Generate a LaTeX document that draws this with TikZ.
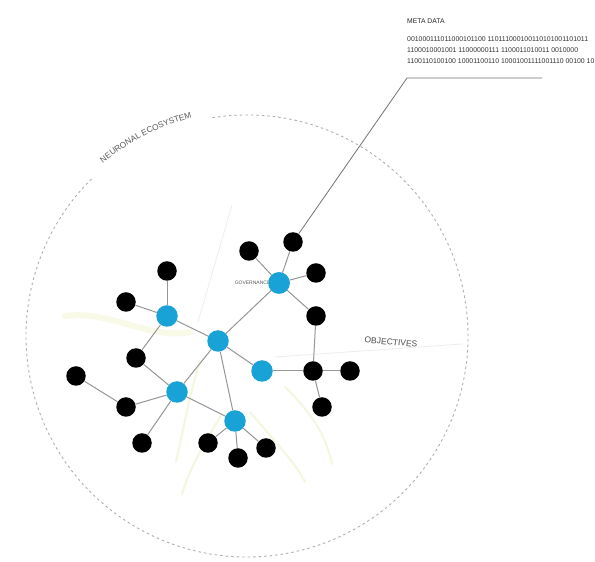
\documentclass[tikz,border=0pt]{standalone}
\usepackage{fontspec}
\setmainfont{Liberation Sans}
\usetikzlibrary{decorations.text}
\definecolor{nodeblue}{RGB}{24,162,214}
\definecolor{edgegray}{RGB}{150,150,150}
\definecolor{paleyellow}{RGB}{246,246,222}
\definecolor{ringgray}{RGB}{175,175,175}
\tikzset{
  hub/.style={circle, fill=nodeblue, minimum size=21.5pt, inner sep=0pt},
  leaf/.style={circle, fill=black, minimum size=19.5pt, inner sep=0pt},
  link/.style={draw=edgegray, line width=1pt},
  metaline/.style={draw=black!55, line width=0.8pt},
  ring/.style={draw=ringgray, line width=0.9pt, dash pattern=on 2.5pt off 3pt},
  faint/.style={draw=paleyellow, line width=2pt, line cap=round},
  faintgray/.style={draw=black!7, line width=0.8pt},
  tinylabel/.style={font=\fontsize{5}{5.5}\selectfont, text=black!65, inner sep=0.5pt, fill=white},
  smalllabel/.style={font=\fontsize{8.5}{9}\selectfont, text=black!70},
  metatext/.style={font=\fontsize{6.9}{11}\selectfont, text=black!80, align=left, inner sep=0pt, anchor=north west}
}
\begin{document}
\begin{tikzpicture}[x=1pt,y=1pt]
\useasboundingbox (0,0) rectangle (595,562);
\fill[white] (0,0) rectangle (595,562);

% faint background strokes
\draw[faint, line width=6pt, draw=paleyellow!70] (65,246) .. controls (110,252) and (150,222) .. (190,230);
\draw[faintgray] (232,357) -- (198,240);
\draw[faint] (222,148) .. controls (205,120) and (190,95) .. (182,68);
\draw[faint] (250,150) .. controls (275,120) and (295,100) .. (305,80);
\draw[faint] (285,175) .. controls (310,150) and (325,130) .. (332,98);
\draw[faint] (200,200) .. controls (190,170) and (185,140) .. (176,100);
\draw[faintgray] (275,205) -- (462,218);

% dashed ring with a gap for its title
\draw[ring] (247,226) ++(99:221) arc[start angle=99, end angle=-226, radius=221];
\path[decorate, decoration={text along path, text align=center,
  text={|\fontsize{8.3}{9}\selectfont\color{black!65}|NEURONAL ECOSYSTEM}}]
  (247,226) ++(135:225) arc[start angle=135, end angle=99, radius=225];

% hubs
\node[hub] (h1) at (279,279) {};
\node[hub] (h2) at (167,246) {};
\node[hub] (h3) at (218,221) {};
\node[hub] (h4) at (262,191) {};
\node[hub] (h5) at (177,170) {};
\node[hub] (h6) at (235,141) {};

% leaves
\node[leaf] (k1) at (249,311) {};
\node[leaf] (k2) at (293,320) {};
\node[leaf] (k3) at (316,289) {};
\node[leaf] (k4) at (167,291) {};
\node[leaf] (k5) at (126,260) {};
\node[leaf] (k6) at (316,246) {};
\node[leaf] (k7) at (136,204) {};
\node[leaf] (k8) at (313,191) {};
\node[leaf] (k9) at (350,191) {};
\node[leaf] (k10) at (76,186) {};
\node[leaf] (k11) at (126,155) {};
\node[leaf] (k12) at (322,155) {};
\node[leaf] (k13) at (142,119) {};
\node[leaf] (k14) at (208,119) {};
\node[leaf] (k15) at (238,104) {};
\node[leaf] (k16) at (266,114) {};

% connectors
\draw[link] (h1) -- (k1);
\draw[link] (h1) -- (k2);
\draw[link] (h1) -- (k3);
\draw[link] (h1) -- (k6);
\draw[link] (h1) -- (h3);
\draw[link] (h2) -- (k4);
\draw[link] (h2) -- (k5);
\draw[link] (h2) -- (k7);
\draw[link] (h2) -- (h3);
\draw[link] (h3) -- (h4);
\draw[link] (h3) -- (h5);
\draw[link] (h3) -- (h6);
\draw[link] (h4) -- (k8);
\draw[link] (k8) -- (k6);
\draw[link] (k8) -- (k9);
\draw[link] (k8) -- (k12);
\draw[link] (h5) -- (k7);
\draw[link] (h5) -- (k11);
\draw[link] (k11) -- (k10);
\draw[link] (h5) -- (k13);
\draw[link] (h5) -- (h6);
\draw[link] (h6) -- (k14);
\draw[link] (h6) -- (k15);
\draw[link] (h6) -- (k16);

% labels
\node[tinylabel, anchor=east] (gov) at ([xshift=3pt]h1.west) {GOVERNANCE};
\node[hub] at (h1) {};
\node[smalllabel, rotate=-5] (obj) at (391,220) {OBJECTIVES};

% meta data call-out
\coordinate (m1) at (407,484);
\coordinate (m2) at (542,484);
\draw[metaline] (k2) -- (m1) -- (m2);
\node[font=\fontsize{6.8}{7}\selectfont, text=black!85, anchor=base west, inner sep=0pt] (metatitle) at (407,538) {META DATA};
\node[metatext] (metabits) at (407,526) {001000111011000101100 110111000100110101001101011\\
1100010001001 11000000111 1100011010011 0010000\\
1100110100100 10001100110 10001001111001110 00100 10};
\end{tikzpicture}
\end{document}
